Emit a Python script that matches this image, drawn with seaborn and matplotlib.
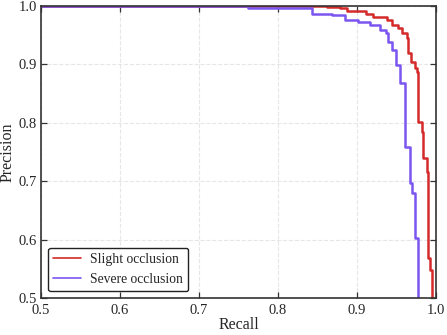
import numpy as np
import pandas as pd
import seaborn as sns
import matplotlib.pyplot as plt

# PR curve vertices (recall where precision drops, precision after the drop)
slight_recall = [0.5, 0.862, 0.878, 0.887, 0.912, 0.920, 0.938, 0.944, 0.952, 0.957,
                 0.963, 0.965, 0.969, 0.973, 0.976, 0.977, 0.978, 0.982, 0.984, 0.989,
                 0.990, 0.992, 0.995]
slight_precision = [1.0, 0.999, 0.996, 0.992, 0.987, 0.982, 0.976, 0.967, 0.962, 0.954,
                    0.945, 0.919, 0.904, 0.894, 0.887, 0.848, 0.801, 0.784, 0.740, 0.716,
                    0.568, 0.548, 0.45]

severe_recall = [0.5, 0.762, 0.843, 0.868, 0.885, 0.901, 0.916, 0.929, 0.937, 0.939,
                 0.944, 0.950, 0.954, 0.961, 0.967, 0.970, 0.973, 0.977]
severe_precision = [1.0, 0.996, 0.987, 0.985, 0.976, 0.973, 0.967, 0.959, 0.954, 0.939,
                    0.925, 0.899, 0.868, 0.759, 0.697, 0.680, 0.603, 0.45]

ticks = [0.5, 0.6, 0.7, 0.8, 0.9, 1.0]

sns.set_style('ticks')
plt.rcParams['font.family'] = ['Liberation Serif', 'DejaVu Serif']

df_slight = pd.DataFrame({'recall': slight_recall, 'precision': slight_precision})
df_severe = pd.DataFrame({'recall': severe_recall, 'precision': severe_precision})

fig = plt.figure(figsize=(4.47, 3.35), dpi=100)
ax = fig.add_axes([0.092, 0.11, 0.883, 0.872])

sns.lineplot(data=df_slight, x='recall', y='precision', ax=ax, color='#d42a2a',
             lw=1.8, drawstyle='steps-post', estimator=None, sort=False,
             label='Slight occlusion')
sns.lineplot(data=df_severe, x='recall', y='precision', ax=ax, color='#7a55f0',
             lw=1.8, drawstyle='steps-post', estimator=None, sort=False,
             label='Severe occlusion')

ax.set_xlim(0.5, 1.0)
ax.set_ylim(0.5, 1.0)
ax.set_xticks(ticks)
ax.set_yticks(ticks)
ax.set_xticklabels([f'{t:.1f}' for t in ticks], fontsize=10.5)
ax.set_yticklabels([f'{t:.1f}' for t in ticks], fontsize=10.5)
ax.tick_params(direction='in', top=True, right=True, length=4, width=0.9,
               color='#333333')
ax.tick_params(axis='x', pad=4)
ax.tick_params(axis='y', pad=3)
ax.grid(True, linestyle='--', color='#e6e6e6', linewidth=0.8)
for s in ax.spines.values():
    s.set_color('#333333')
    s.set_linewidth(1.2)

ax.set_xlabel('Recall', fontsize=11.5, labelpad=0)
ax.set_ylabel('Precision', fontsize=11.5, labelpad=2)

leg = ax.legend(loc='lower left', fontsize=9.8, frameon=True, fancybox=True,
                handlelength=2.0, handletextpad=0.7, borderaxespad=0.5)
leg.get_frame().set_edgecolor('#222222')
leg.get_frame().set_linewidth(1.0)
leg.get_frame().set_alpha(1)
for line in leg.get_lines():
    line.set_linewidth(1.2)

fig.savefig('out.png', dpi=100)
